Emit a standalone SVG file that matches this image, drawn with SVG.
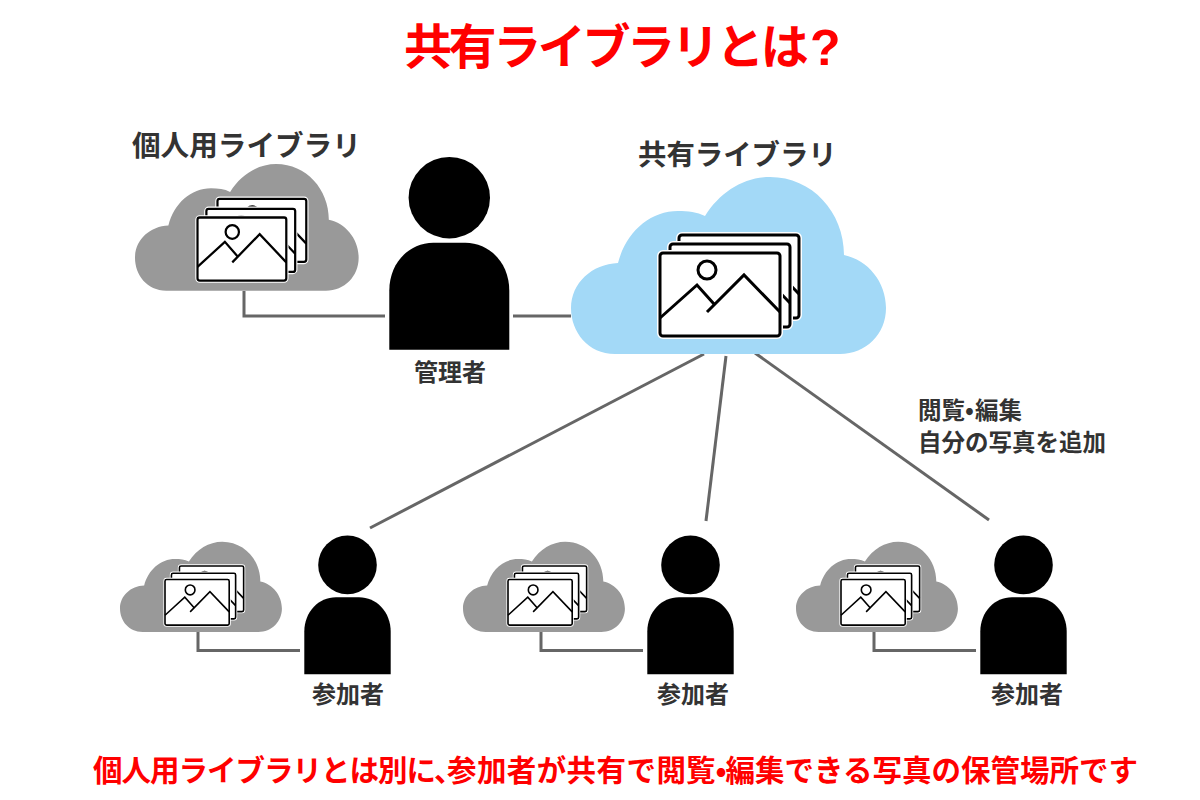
<svg xmlns="http://www.w3.org/2000/svg" width="1200" height="800" viewBox="0 0 1200 800">
<style>
text{font-family:"Noto Sans CJK JP","Liberation Sans",sans-serif;font-weight:700;fill:#333}
.red{fill:#f00}
.latin{font-family:"Liberation Sans",sans-serif}
.wire{fill:none;stroke:#666;stroke-width:3}
.frame{fill:#fff;stroke:#000;stroke-width:3;stroke-linejoin:round}
.halo{fill:#fff;stroke:#fff;stroke-width:6;stroke-linejoin:round}
.pic{fill:none;stroke:#000;stroke-width:3}
</style>
<defs>
<path id="cloud" d="M615 354C588 354 571 332 571 308C571 283 592 264 618 263C626 232 650 211 678 211C688 211 697 212 705 216C720 192 744 177 770 177C812 177 844 212 844 255C868 260 886 282 886 308C886 334 866 354 840 354Z"/>
<g id="photo">
<rect class="halo" x="0" y="0" width="120" height="83" rx="3"/>
<rect class="frame" x="0" y="0" width="120" height="83" rx="3"/>
<circle class="pic" cx="47" cy="17" r="9"/>
<path class="pic" d="M0 65L37 32L54 51M47 59L84 22L120 59"/>
</g>
<g id="photo-small">
<rect class="halo" x="0" y="0" width="120" height="83" rx="3"/>
<rect class="frame" x="0" y="0" width="120" height="83" rx="3"/>
<circle class="pic" cx="47" cy="19" r="9"/>
<path class="pic" d="M0 65L37 32L54 51M47 59L84 22L120 59"/>
</g>
<g id="stack-large">
<use href="#photo" x="19" y="-18"/>
<use href="#photo" x="10" y="-9"/>
<use href="#photo"/>
</g>
<g id="stack-small">
<use href="#photo-small" x="27" y="-24.6"/>
<use href="#photo-small" x="12" y="-11.4"/>
<use href="#photo-small"/>
</g>
<g id="person">
<circle cx="60" cy="-45" r="40.7"/>
<path d="M0 107V48C0 20 20 0 44 0H76C100 0 120 20 120 48V107Z"/>
</g>
</defs>
<g id="connectors">
<path class="wire" d="M244 291V316H385"/>
<path class="wire" d="M513 316H571"/>
<path class="wire" d="M704 354L370 528"/>
<path class="wire" d="M726 356L706 521"/>
<path class="wire" d="M755 353L989 520"/>
<path class="wire" d="M198 632V650.5H300"/>
<path class="wire" d="M541 632V650.5H643"/>
<path class="wire" d="M874 632V650.5H976"/>
</g>
<g id="title"><text class="red" x="404" y="64" font-size="48" letter-spacing="-3.4">共有ライブラリとは<tspan class="latin" x="810" y="65" font-size="50" letter-spacing="0">?</tspan></text></g>
<g id="personal-library">
<text x="132" y="156" font-size="28.6">個人用ライブラリ</text>
<use href="#cloud" fill="#999" transform="translate(135 164) scale(.71 .716) translate(-571 -177)"/>
<use href="#stack-small" transform="translate(197.5 217.5) scale(.74 .76)"/>
</g>
<g id="admin">
<use href="#person" transform="translate(389.3 242.7)"/>
<text x="414" y="381" font-size="24">管理者</text>
</g>
<g id="shared-library">
<text x="638" y="165" font-size="28.4">共有ライブラリ</text>
<use href="#cloud" fill="#a3d9f7"/>
<use href="#stack-large" transform="translate(660 253)"/>
</g>
<g id="access-note">
<text x="918" y="419" font-size="23.5">閲覧•<tspan x="975">編集</tspan></text>
<text x="918" y="451" font-size="23.5">自分の写真を追加</text>
</g>
<g id="member-1">
<use href="#cloud" fill="#999" transform="translate(120 541.7) scale(.514 .51) translate(-571 -177)"/>
<use href="#stack-small" transform="translate(165 579.5) scale(.535 .55)"/>
<use href="#person" transform="translate(304.3 597.3) scale(.72)"/>
<text x="312" y="703" font-size="24">参加者</text>
</g>
<g id="member-2">
<use href="#cloud" fill="#999" transform="translate(463 541.7) scale(.514 .51) translate(-571 -177)"/>
<use href="#stack-small" transform="translate(508 579.5) scale(.535 .55)"/>
<use href="#person" transform="translate(647.3 597.3) scale(.72)"/>
<text x="657" y="703" font-size="24">参加者</text>
</g>
<g id="member-3">
<use href="#cloud" fill="#999" transform="translate(796 541.7) scale(.514 .51) translate(-571 -177)"/>
<use href="#stack-small" transform="translate(841 579.5) scale(.535 .55)"/>
<use href="#person" transform="translate(980.3 597.3) scale(.72)"/>
<text x="991" y="703" font-size="24">参加者</text>
</g>
<g id="caption"><text class="red" x="93" y="781" font-size="29.5" letter-spacing="-1">個人用ライブラリとは別に、<tspan x="447" letter-spacing=".4">参加者が共有で</tspan><tspan x="656.5" letter-spacing="0">閲覧•</tspan><tspan x="725.5" letter-spacing="0">編集できる写真の保管場所です</tspan></text></g>
</svg>
